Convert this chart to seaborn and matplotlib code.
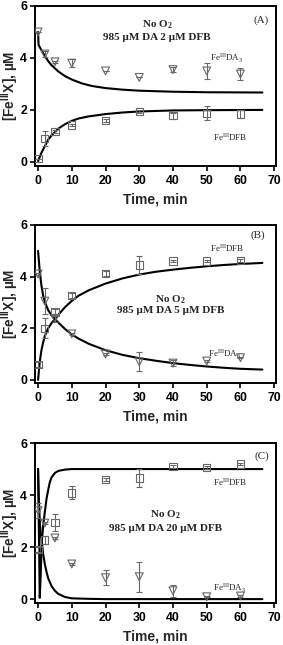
import numpy as np
import pandas as pd
import matplotlib
matplotlib.use("Agg")
import matplotlib.pyplot as plt
import seaborn as sns

sns.set_style("ticks")
plt.rcParams['font.family'] = ['Liberation Sans', 'DejaVu Sans']
plt.rcParams['mathtext.fontset'] = 'custom'
plt.rcParams['mathtext.rm'] = 'Liberation Serif'
plt.rcParams['mathtext.bf'] = 'Liberation Serif:bold'
plt.rcParams['mathtext.sf'] = 'Liberation Sans:bold'

# ---------------- data ----------------
t_obs = [0, 2, 5, 10, 20, 30, 40, 50, 60]

# Panel A: 985 uM DA, 2 uM DFB
a_da3 = [5.0, 4.15, 3.85, 3.8, 3.5, 3.25, 3.55, 3.5, 3.38]
a_da3_err = [0.0, 0.12, 0.05, 0.15, 0.0, 0.0, 0.1, 0.3, 0.22]
a_dfb = [0.12, 0.9, 1.17, 1.42, 1.6, 1.93, 1.78, 1.87, 1.84]
a_dfb_err = [0.0, 0.28, 0.05, 0.05, 0.05, 0.05, 0.12, 0.27, 0.15]

# Panel B: 985 uM DA, 5 uM DFB
b_da3 = [4.1, 3.05, 2.38, 1.78, 1.0, 0.7, 0.65, 0.73, 0.86]
b_da3_err = [0.05, 0.5, 0.12, 0.05, 0.05, 0.37, 0.11, 0.03, 0.03]
b_dfb = [0.6, 2.0, 2.63, 3.26, 4.12, 4.45, 4.6, 4.6, 4.62]
b_dfb_err = [0.1, 0.39, 0.12, 0.1, 0.08, 0.33, 0.05, 0.05, 0.05]

# Panel C: 985 uM DA, 20 uM DFB
c_da3 = [3.4, 2.92, 2.35, 1.35, 0.82, 0.86, 0.32, 0.09, 0.12]
c_da3_err = [0.3, 0.05, 0.05, 0.03, 0.28, 0.57, 0.22, 0.02, 0.02]
c_dfb = [1.9, 2.27, 2.95, 4.08, 4.59, 4.65, 5.1, 5.06, 5.19]
c_dfb_err = [0.1, 0.15, 0.33, 0.25, 0.05, 0.35, 0.05, 0.05, 0.05]

# model curves
a_fit_t_da3 = [0, 0.15, 1, 2, 3, 4, 6, 8, 10, 13, 16, 20, 25, 30, 40, 50, 66.5]
a_fit_da3 = [5.0, 4.5, 4.3, 4.08, 3.88, 3.72, 3.48, 3.3, 3.17, 3.02, 2.92, 2.84, 2.78, 2.74, 2.7, 2.68, 2.67]
a_fit_t_dfb = [0, 1, 2, 3, 4, 5, 6, 8, 10, 12, 15, 20, 25, 30, 40, 50, 66.5]
a_fit_dfb = [0.03, 0.35, 0.6, 0.85, 1.02, 1.15, 1.28, 1.45, 1.58, 1.67, 1.75, 1.84, 1.9, 1.94, 1.98, 1.99, 2.0]

b_fit_t = [0, 0.5, 1, 1.5, 2, 3, 4, 5, 6, 8, 10, 12, 15, 20, 25, 30, 35, 40, 45, 50, 55, 60, 66.5]
b_fit_da3 = [5.0, 4.2, 3.65, 3.28, 3.02, 2.7, 2.5, 2.36, 2.22, 1.97, 1.76, 1.6, 1.4, 1.15, 0.97, 0.84, 0.74, 0.65, 0.58, 0.52, 0.47, 0.43, 0.4]
b_fit_dfb = [0.0, 0.7, 1.15, 1.45, 1.7, 2.0, 2.2, 2.36, 2.52, 2.82, 3.06, 3.26, 3.47, 3.73, 3.93, 4.08, 4.19, 4.27, 4.34, 4.4, 4.45, 4.49, 4.53]

c_fit_t_da3 = [0, 0.2, 0.5, 0.8, 1.1, 1.5, 2, 2.5, 3, 4, 5, 6, 8, 10, 15, 20, 66.5]
c_fit_da3 = [5.0, 4.0, 3.0, 2.5, 2.2, 1.75, 1.35, 1.05, 0.8, 0.5, 0.32, 0.2, 0.08, 0.03, 0.01, 0.0, 0.0]
c_fit_t_dfb = [0, 0.5, 0.8, 1.1, 1.5, 2, 2.5, 3, 3.5, 4, 5, 6, 8, 10, 15, 66.5]
c_fit_dfb = [5.0, 0.05, 1.0, 2.2, 2.8, 3.35, 3.85, 4.2, 4.5, 4.68, 4.85, 4.93, 4.98, 5.0, 5.0, 5.0]

conds = ["2", "5", "20"]
panel_tags = ["(A)", "(B)", "(C)"]

# ---------------- figure ----------------
fig = plt.figure(figsize=(2.83, 6.45), dpi=100)
left, width = 0.1226, 0.851
boxes = [(0.7434, 0.2473), (0.4062, 0.2450), (0.0651, 0.2480)]
ylims = [(-0.14, 6.0), (-0.12, 6.0), (-0.15, 6.0)]

panels = [
    dict(da3=a_da3, da3e=a_da3_err, dfb=a_dfb, dfbe=a_dfb_err,
         ft_da3=a_fit_t_da3, f_da3=a_fit_da3, ft_dfb=a_fit_t_dfb, f_dfb=a_fit_dfb,
         txt=(35.3, 5.3, 4.8), tag=(66.0, 5.46), lab_da3=(51, 4.0), lab_dfb=(52, 0.96)),
    dict(da3=b_da3, da3e=b_da3_err, dfb=b_dfb, dfbe=b_dfb_err,
         ft_da3=b_fit_t, f_da3=b_fit_da3, ft_dfb=b_fit_t, f_dfb=b_fit_dfb,
         txt=(39.2, 3.12, 2.7), tag=(65.0, 5.6), lab_da3=(50.5, 0.97), lab_dfb=(51, 5.1)),
    dict(da3=c_da3, da3e=c_da3_err, dfb=c_dfb, dfbe=c_dfb_err,
         ft_da3=c_fit_t_da3, f_da3=c_fit_da3, ft_dfb=c_fit_t_dfb, f_dfb=c_fit_dfb,
         txt=(37.7, 3.23, 2.72), tag=(66.3, 5.5), lab_da3=(52, 0.41), lab_dfb=(52, 4.49)),
]

mk_col = "#686868"
for i, p in enumerate(panels):
    b, h = boxes[i]
    ax = fig.add_axes([left, b, width, h])

    sns.lineplot(x=p['ft_da3'], y=p['f_da3'], ax=ax, color='black', lw=1.5,
                 estimator=None, sort=False)
    sns.lineplot(x=p['ft_dfb'], y=p['f_dfb'], ax=ax, color='black', lw=1.5,
                 estimator=None, sort=False)

    ax.errorbar(t_obs, p['da3'], yerr=p['da3e'], fmt='none', ecolor=mk_col,
                elinewidth=0.8, capsize=2.4, capthick=0.8, zorder=3)
    ax.errorbar(t_obs, p['dfb'], yerr=p['dfbe'], fmt='none', ecolor=mk_col,
                elinewidth=0.8, capsize=2.4, capthick=0.8, zorder=3)
    sns.scatterplot(x=t_obs, y=p['da3'], ax=ax, marker='v', s=32,
                    facecolor='none', edgecolor=mk_col, linewidth=0.8, zorder=4)
    sns.scatterplot(x=t_obs, y=p['dfb'], ax=ax, marker='s', s=28,
                    facecolor='none', edgecolor=mk_col, linewidth=0.8, zorder=4)

    ax.set_xlim(-1.0, 70.4)
    ax.set_ylim(*ylims[i])
    ax.set_xticks(range(0, 71, 10))
    ax.set_yticks([0, 2, 4, 6])
    for lab in ax.get_xticklabels() + ax.get_yticklabels():
        lab.set_fontweight('bold')
        lab.set_fontsize(8.8)
    ax.tick_params(axis='both', direction='out', length=3.5, width=1.2, pad=2, colors='black')
    ax.tick_params(axis='x', pad=3)
    for s in ax.spines.values():
        s.set_linewidth(1.4)
        s.set_color('black')

    ax.set_xlabel("Time, min", fontsize=10, fontweight='bold', labelpad=4)
    ax.set_ylabel(r"[Fe$^{\mathsf{III}}$X], µM", fontsize=9.8, fontweight='bold')
    ax.yaxis.set_label_coords(-0.058, 0.5)

    tx, ty1, ty2 = p['txt']
    ax.text(tx, ty1, r"No O$_{\mathbf{2}}$", ha='center', va='center',
            fontsize=8, fontweight='bold', family='Liberation Serif')
    ax.text(tx, ty2, f"985 µM DA {conds[i]} µM DFB", ha='center', va='center',
            fontsize=8, fontweight='bold', family='Liberation Serif')
    ax.text(p['tag'][0], p['tag'][1], panel_tags[i], ha='center', va='center',
            fontsize=8, family='Liberation Serif')
    ax.text(p['lab_da3'][0], p['lab_da3'][1], r"Fe$^{\mathrm{III}}$DA$_{\mathrm{3}}$",
            ha='left', va='center', fontsize=6.5, family='Liberation Serif')
    ax.text(p['lab_dfb'][0], p['lab_dfb'][1], r"Fe$^{\mathrm{III}}$DFB",
            ha='left', va='center', fontsize=6.5, family='Liberation Serif')

fig.savefig("out.png", dpi=100)
